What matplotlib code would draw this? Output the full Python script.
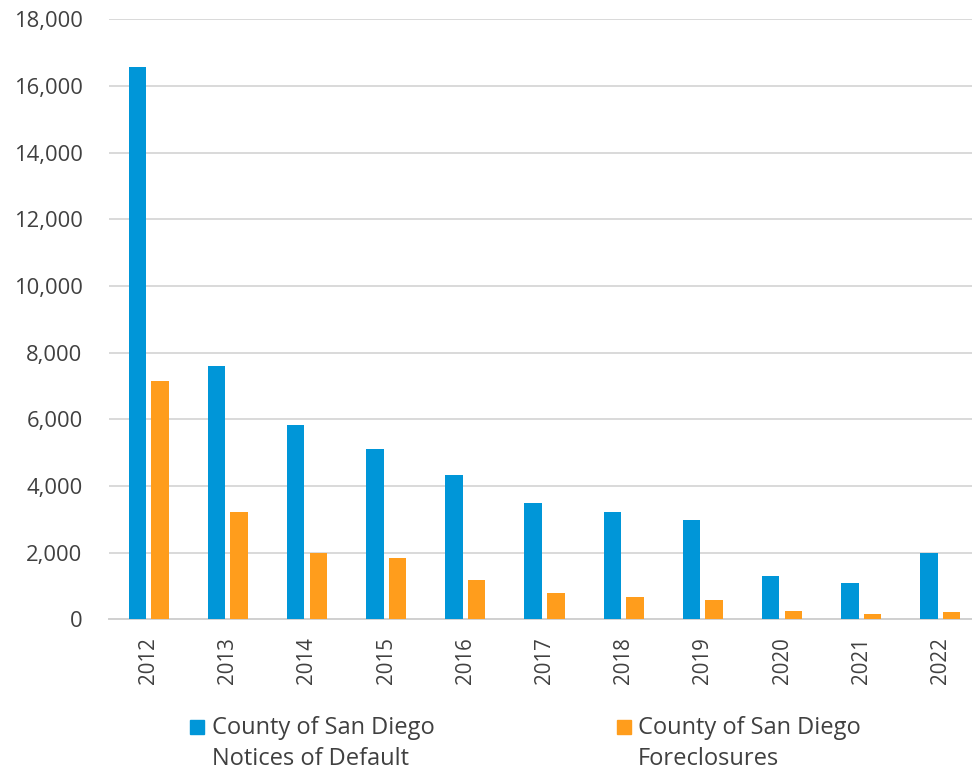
import matplotlib
matplotlib.use("Agg")
import matplotlib.pyplot as plt
import matplotlib.ticker as mtick
from matplotlib.patches import Rectangle
import numpy as np

years = ["2012", "2013", "2014", "2015", "2016", "2017", "2018", "2019", "2020", "2021", "2022"]
notices_of_default = [16580, 7600, 5830, 5120, 4340, 3490, 3230, 2970, 1310, 1080, 1990]
foreclosures = [7160, 3210, 2000, 1830, 1170, 790, 670, 570, 240, 150, 210]

BLUE, ORANGE = "#0096D8", "#FF9D1C"
TEXT = "#404040"
plt.rcParams["font.family"] = ["Open Sans", "DejaVu Sans"]

fig = plt.figure(figsize=(9.72, 7.72), dpi=100)
W, H = 972, 772
# axes in pixel terms: left 109, right 980, bottom y=619, top y=19
ax = fig.add_axes([109 / W, (H - 619.3) / H, 871 / W, 600 / H])

x = np.arange(len(years))
bw, off = 0.22, 0.143
ax.bar(x - off, notices_of_default, bw, color=BLUE, zorder=3)
ax.bar(x + off, foreclosures, bw, color=ORANGE, zorder=3)

ax.set_xlim(-0.5, len(years) - 0.5)
ax.set_ylim(0, 18000)
ax.yaxis.set_major_locator(mtick.MultipleLocator(2000))
ax.yaxis.set_major_formatter(mtick.FuncFormatter(lambda v, _: f"{v:,.0f}"))
ax.set_xticks(x)
ax.set_xticklabels(years, rotation=90)
ax.tick_params(axis="y", length=0, pad=19, labelsize=15.8, labelcolor=TEXT)
ax.tick_params(axis="x", length=0, pad=13, labelsize=14.8, labelcolor=TEXT)

ax.grid(axis="y", color="#D9D9D9", linewidth=1.4, zorder=0)
for s in ["top", "right", "left"]:
    ax.spines[s].set_visible(False)
ax.spines["bottom"].set_color("#D0D0D0")
ax.spines["bottom"].set_linewidth(1.4)

# legend below the axis, square sits on the first text line
legend = [(190, 212, BLUE, ["County of San Diego", "Notices of Default"]),
          (617, 638, ORANGE, ["County of San Diego", "Foreclosures"])]
for sx, tx, c, lines in legend:
    fig.add_artist(Rectangle((sx / W, (H - 734) / H), 14 / W, 14 / H,
                             transform=fig.transFigure, color=c))
    for i, line in enumerate(lines):
        fig.text(tx / W, (H - 734 - 31 * i) / H, line, ha="left", va="baseline",
                 fontsize=17, color=TEXT)

fig.savefig("out.png", dpi=100, facecolor="white")
